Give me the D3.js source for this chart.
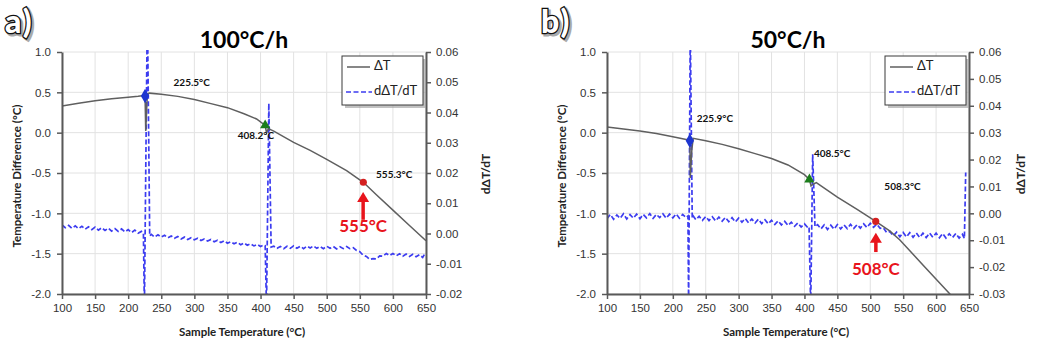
<!DOCTYPE html>
<html>
<head>
<meta charset="utf-8">
<script src="https://cdn.jsdelivr.net/npm/d3@7"></script>
<style>
    body { margin: 0; background: #fff; }
    svg { font-family: Lato, "Open Sans", sans-serif; }
    .axis text { font-size: 11.5px; fill: #333; }
    .axis .domain { stroke: #595959; stroke-width: 2; }
    .axis .tick line { stroke: #595959; stroke-width: 1.5; }
</style>
</head>
<body>
<div id="chart"></div>
<script>
// shared ticks
const xTicks = [100, 150, 200, 250, 300, 350, 400, 450, 500, 550, 600, 650];
const leftTicks = [1.0, 0.5, 0.0, -0.5, -1.0, -1.5, -2.0];
const rightTicksA = [0.06, 0.05, 0.04, 0.03, 0.02, 0.01, 0.00, -0.01, -0.02];
const rightTicksB = [0.06, 0.05, 0.04, 0.03, 0.02, 0.01, 0.00, -0.01, -0.02, -0.03];

// panel a (100°C/h): [sample temperature, value]
const deltaA = [[100, 0.33], [125, 0.365], [150, 0.395], [175, 0.42], [200, 0.44], [215, 0.45], [224, 0.46],
    [225.5, 0.455], [226.5, 0.02], [228, 0.3], [229, 0.48], [232, 0.49], [250, 0.475], [275, 0.45], [300, 0.41],
    [325, 0.36], [350, 0.31], [375, 0.235], [394, 0.17], [407, 0.09], [409, 0.0], [412, 0.05], [420, 0.02],
    [450, -0.12], [475, -0.22], [500, -0.33], [530, -0.47], [555.3, -0.615], [575, -0.77], [600, -0.96],
    [625, -1.15], [650, -1.34]];

const derivA = [[100, 0.0028], [105, 0.0019], [110, 0.0027], [115, 0.0017], [120, 0.0025], [125, 0.0016],
    [130, 0.0024], [135, 0.0014], [140, 0.0022], [145, 0.0013], [150, 0.0021], [155, 0.0011], [160, 0.0019],
    [165, 0.0010], [170, 0.0018], [175, 0.0008], [180, 0.0016], [185, 0.0007], [190, 0.0015], [195, 0.0005],
    [200, 0.0013], [205, 0.0003], [210, 0.0011], [215, 0.0001], [220, 0.0007], [223, 0.0002],
    [224.5, -0.025], [229, 0.075], [232.5, -0.0008],
    [235, -0.0003], [240, -0.0012], [245, -0.0004], [250, -0.0012], [255, -0.0006], [260, -0.0014],
    [265, -0.0008], [270, -0.0016], [275, -0.0010], [280, -0.0018], [285, -0.0012], [290, -0.0020],
    [295, -0.0014], [300, -0.0021], [305, -0.0016], [310, -0.0023], [315, -0.0018], [320, -0.0025],
    [325, -0.0020], [330, -0.0027], [335, -0.0022], [340, -0.0030], [345, -0.0024], [350, -0.0032],
    [355, -0.0027], [360, -0.0034], [365, -0.0029], [370, -0.0037], [375, -0.0031], [380, -0.0039],
    [385, -0.0034], [390, -0.0041], [395, -0.0036], [400, -0.0043], [405, -0.0038], [407, -0.0040],
    [409, -0.025], [412.5, 0.043], [416, -0.0045],
    [420, -0.0042], [425, -0.0049], [430, -0.0043], [435, -0.0050], [440, -0.0042], [445, -0.0049],
    [450, -0.0041], [455, -0.0049], [460, -0.0042], [465, -0.0050], [470, -0.0042], [475, -0.0048],
    [480, -0.0041], [485, -0.0049], [490, -0.0043], [495, -0.0050], [500, -0.0042], [505, -0.0049],
    [510, -0.0043], [515, -0.0051], [520, -0.0044], [525, -0.0050], [530, -0.0043], [535, -0.0050],
    [540, -0.0047], [545, -0.0056], [550, -0.0060], [555, -0.0072], [560, -0.0076], [565, -0.0086],
    [570, -0.0083], [575, -0.0084], [580, -0.0074], [585, -0.0075], [590, -0.0066], [595, -0.0073],
    [600, -0.0066], [605, -0.0074], [610, -0.0067], [615, -0.0075], [620, -0.0068], [625, -0.0076],
    [630, -0.0069], [635, -0.0077], [640, -0.0070], [645, -0.0079], [648, -0.0068]];

// panel b (50°C/h)
const deltaB = [[100, 0.07], [125, 0.045], [150, 0.02], [175, -0.01], [200, -0.05], [224, -0.09],
    [225.9, -0.10], [226.5, -0.56], [229, -0.2], [231, -0.07], [250, -0.1], [275, -0.145], [300, -0.2],
    [325, -0.26], [350, -0.32], [375, -0.4], [400, -0.52], [407.5, -0.58], [410, -0.66], [413, -0.64],
    [418, -0.62], [450, -0.8], [480, -0.95], [508.3, -1.1], [530, -1.22], [545, -1.33], [580, -1.64],
    [621, -2.0], [650, -2.26]];

const derivB = [[100, -0.0020], [105, -0.0004], [110, -0.0022], [115, -0.0006], [120, -0.0019], [125, -0.0002],
    [130, -0.0021], [135, -0.0005], [140, -0.0018], [145, -0.0003], [150, -0.0020], [155, -0.0004],
    [160, -0.0017], [165, -0.0001], [170, -0.0019], [175, -0.0004], [180, -0.0016], [185, -0.0002],
    [190, -0.0018], [195, -0.0003], [200, -0.0017], [205, -0.0002], [210, -0.0018], [215, -0.0004],
    [220, -0.0016], [223, -0.0010],
    [224, -0.035], [226.5, 0.07], [229.5, -0.0018],
    [231, -0.0010], [235, -0.0024], [240, -0.0011], [245, -0.0026], [250, -0.0012], [255, -0.0027],
    [260, -0.0013], [265, -0.0028], [270, -0.0014], [275, -0.0029], [280, -0.0015], [285, -0.0031],
    [290, -0.0016], [295, -0.0032], [300, -0.0018], [305, -0.0033], [310, -0.0019], [315, -0.0035],
    [320, -0.0021], [325, -0.0036], [330, -0.0022], [335, -0.0038], [340, -0.0024], [345, -0.0039],
    [350, -0.0026], [355, -0.0041], [360, -0.0028], [365, -0.0043], [370, -0.0030], [375, -0.0045],
    [380, -0.0033], [385, -0.0048], [390, -0.0036], [395, -0.0051], [400, -0.0039], [405, -0.0053],
    [407, -0.0050], [409.5, -0.035], [412.5, 0.022], [416, -0.0050],
    [420, -0.0042], [425, -0.0058], [430, -0.0043], [435, -0.0060], [440, -0.0044], [445, -0.0059],
    [450, -0.0042], [455, -0.0058], [460, -0.0043], [465, -0.0057], [470, -0.0041], [475, -0.0056],
    [480, -0.0042], [485, -0.0055], [490, -0.0039], [495, -0.0053], [500, -0.0037], [505, -0.0052],
    [510, -0.0040], [515, -0.0056], [520, -0.0054], [525, -0.0072], [530, -0.0068], [535, -0.0084],
    [540, -0.0070], [545, -0.0087], [550, -0.0071], [555, -0.0088], [560, -0.0072], [565, -0.0089],
    [570, -0.0073], [575, -0.0090], [580, -0.0074], [585, -0.0090], [590, -0.0073], [595, -0.0089],
    [600, -0.0074], [605, -0.0091], [610, -0.0075], [615, -0.0092], [620, -0.0076], [625, -0.0090],
    [630, -0.0075], [635, -0.0092], [640, -0.0078], [643, -0.0094], [645, 0.0152]];

// onset markers: [temperature, ΔT]
const markersA = [[225.5, 0.455], [407, 0.09], [555.3, -0.615]];
const markersB = [[225.9, -0.10], [407.5, -0.58], [508.3, -1.10]];
const markerShapes = [d3.symbolDiamond, d3.symbolTriangle, d3.symbolCircle];
const markerColors = ["#1d35d0", "#1b7d1b", "#d42020"];
const markerSizes = [60, 45, 40];

// annotation labels (anchored in data units)
const labelsA = [["225.5°C", 296, 0.615], ["408.2°C", 393, -0.05], ["555.3°C", 602, -0.525]];
const labelsB = [["225.9°C", 264, 0.17], ["408.5°C", 442, -0.27], ["508.3°C", 549, -0.68]];

const panels = [
    {id: "a", tag: "a)", title: "100°C/h", left: 62, right: 426, tagX: 5, rDomain: [-0.02, 0.06],
        rTicks: rightTicksA, delta: deltaA, deriv: derivA, markers: markersA, labels: labelsA,
        arrowT: 555, arrowTip: -0.735, arrowTail: -1.08, peak: "555°C", peakY: -1.18, rTitleX: 487},
    {id: "b", tag: "b)", title: "50°C/h", left: 607, right: 969, tagX: 541, rDomain: [-0.03, 0.06],
        rTicks: rightTicksB, delta: deltaB, deriv: derivB, markers: markersB, labels: labelsB,
        arrowT: 508.5, arrowTip: -1.24, arrowTail: -1.48, peak: "508°C", peakY: -1.71, rTitleX: 1022}
];

const plotTop = 52, plotBottom = 294;
const fmtMinus = f => d => d3.format(f)(d).replace("−", "-");

const svg = d3.select("#chart").append("svg")
    .attr("width", 1039)
    .attr("height", 351);

const defs = svg.append("defs");

function drawPanel(p) {
    let g = svg.append("g").attr("class", "panel-" + p.id);

    let x = d3.scaleLinear().domain([100, 650]).range([p.left, p.right]);
    let y = d3.scaleLinear().domain([-2, 1]).range([plotBottom, plotTop]);
    let y2 = d3.scaleLinear().domain(p.rDomain).range([plotBottom, plotTop]);

    // gridlines
    g.selectAll(".vgrid").data(xTicks).enter().append("line")
        .attr("x1", d => x(d)).attr("x2", d => x(d))
        .attr("y1", plotTop).attr("y2", plotBottom)
        .attr("stroke", "#e2e2e2").attr("stroke-width", 1);
    g.selectAll(".hgrid").data(leftTicks).enter().append("line")
        .attr("x1", p.left).attr("x2", p.right)
        .attr("y1", d => y(d)).attr("y2", d => y(d))
        .attr("stroke", "#e2e2e2").attr("stroke-width", 1);

    defs.append("clipPath").attr("id", "clip-" + p.id)
        .append("rect")
        .attr("x", p.left).attr("y", plotTop - 2)
        .attr("width", p.right - p.left).attr("height", plotBottom - plotTop + 2);

    let plot = g.append("g").attr("clip-path", "url(#clip-" + p.id + ")");

    let lineL = d3.line().x(d => x(d[0])).y(d => y(d[1]));
    let lineR = d3.line().x(d => x(d[0])).y(d => y2(d[1]));

    plot.append("path")
        .attr("d", lineR(p.deriv))
        .attr("fill", "none")
        .attr("stroke", "#3c3cf0")
        .attr("stroke-width", 1.7)
        .attr("stroke-dasharray", "5,2.5");

    plot.append("path")
        .attr("d", lineL(p.delta))
        .attr("fill", "none")
        .attr("stroke", "#5f5f5f")
        .attr("stroke-width", 1.5);

    // axes
    g.append("g").attr("class", "axis")
        .attr("transform", "translate(" + p.left + ",0)")
        .call(d3.axisLeft(y).tickValues(leftTicks).tickSize(5).tickSizeOuter(0).tickPadding(6).tickFormat(fmtMinus(".1f")));
    g.append("g").attr("class", "axis")
        .attr("transform", "translate(" + p.right + ",0)")
        .call(d3.axisRight(y2).tickValues(p.rTicks).tickSize(5).tickSizeOuter(0).tickPadding(5).tickFormat(fmtMinus(".2f")));
    g.append("g").attr("class", "axis")
        .attr("transform", "translate(0," + plotBottom + ")")
        .call(d3.axisBottom(x).tickValues(xTicks).tickSize(5).tickSizeOuter(0).tickPadding(5));

    // markers
    g.selectAll(".marker").data(p.markers).enter().append("path")
        .attr("transform", d => "translate(" + x(d[0]) + "," + y(d[1]) + ")")
        .attr("d", (d, i) => d3.symbol().type(markerShapes[i]).size(markerSizes[i])())
        .attr("fill", (d, i) => markerColors[i]);

    g.selectAll(".lbl").data(p.labels).enter().append("text")
        .attr("x", d => x(d[1])).attr("y", d => y(d[2]))
        .attr("text-anchor", "middle").attr("dominant-baseline", "middle")
        .style("font-size", "10px").style("font-weight", "bold").style("fill", "#111")
        .text(d => d[0]);

    // red arrow + peak label
    let ax = x(p.arrowT), tipY = y(p.arrowTip), tailY = y(p.arrowTail);
    g.append("line")
        .attr("x1", ax).attr("x2", ax).attr("y1", tipY + 8).attr("y2", tailY)
        .attr("stroke", "#e8141c").attr("stroke-width", 3.5);
    g.append("path")
        .attr("d", "M" + (ax - 6) + "," + (tipY + 10) + "L" + ax + "," + tipY + "L" + (ax + 6) + "," + (tipY + 10) + "Z")
        .attr("fill", "#e8141c");
    g.append("text")
        .attr("x", ax).attr("y", y(p.peakY))
        .attr("text-anchor", "middle").attr("dominant-baseline", "middle")
        .style("font-size", "17px").style("font-weight", "bold").style("fill", "#e8141c")
        .text(p.peak);

    // legend
    let lx = p.right - 84, ly = 56;
    let leg = g.append("g");
    leg.append("rect").attr("x", lx + 3).attr("y", ly + 3).attr("width", 81).attr("height", 49)
        .attr("fill", "#9a9a9a").attr("opacity", 0.6);
    leg.append("rect").attr("x", lx).attr("y", ly).attr("width", 81).attr("height", 49)
        .attr("fill", "#fff").attr("stroke", "#3a3a3a").attr("stroke-width", 1);
    leg.append("line").attr("x1", lx + 5).attr("x2", lx + 28).attr("y1", ly + 11).attr("y2", ly + 11)
        .attr("stroke", "#5f5f5f").attr("stroke-width", 1.5);
    leg.append("line").attr("x1", lx + 4).attr("x2", lx + 30).attr("y1", ly + 36).attr("y2", ly + 36)
        .attr("stroke", "#3c3cf0").attr("stroke-width", 1.7).attr("stroke-dasharray", "5,2.5");
    leg.append("text").attr("x", lx + 32).attr("y", ly + 11).attr("dominant-baseline", "middle")
        .style("font-size", "13px").style("fill", "#222").text("ΔT");
    leg.append("text").attr("x", lx + 32).attr("y", ly + 36).attr("dominant-baseline", "middle")
        .style("font-size", "13px").style("fill", "#222").text("dΔT/dT");

    // titles
    let mid = (p.left + p.right) / 2;
    g.append("text").attr("x", mid).attr("y", 48).attr("text-anchor", "middle")
        .style("font-size", "23px").style("font-weight", "bold").style("fill", "#000").text(p.title);
    g.append("text").attr("x", mid - 2).attr("y", 336).attr("text-anchor", "middle")
        .style("font-size", "11.5px").style("font-weight", "bold").style("fill", "#222")
        .text("Sample Temperature (°C)");
    g.append("text").attr("transform", "translate(" + (p.left - 44) + ",176) rotate(-90)")
        .attr("text-anchor", "middle").attr("dominant-baseline", "middle")
        .style("font-size", "11.5px").style("font-weight", "bold").style("fill", "#222")
        .text("Temperature Difference (°C)");
    g.append("text").attr("transform", "translate(" + p.rTitleX + ",174) rotate(-90)")
        .attr("text-anchor", "middle").attr("dominant-baseline", "middle")
        .style("font-size", "12px").style("font-weight", "bold").style("fill", "#222")
        .text("dΔT/dT");

    // panel tag "a)" / "b)"
    g.append("text").attr("x", p.tagX + 2).attr("y", 35)
        .style("font-size", "32px").style("font-weight", "900").style("letter-spacing", "2px")
        .attr("fill", "#aaa").attr("stroke", "#aaa").attr("stroke-width", 3)
        .text(p.tag);
    g.append("text").attr("x", p.tagX).attr("y", 33)
        .style("font-size", "32px").style("font-weight", "900").style("letter-spacing", "2px")
        .attr("fill", "#fff").attr("stroke", "#111").attr("stroke-width", 2.6)
        .attr("paint-order", "stroke")
        .text(p.tag);
}

panels.forEach(drawPanel);
</script>
</body>
</html>
